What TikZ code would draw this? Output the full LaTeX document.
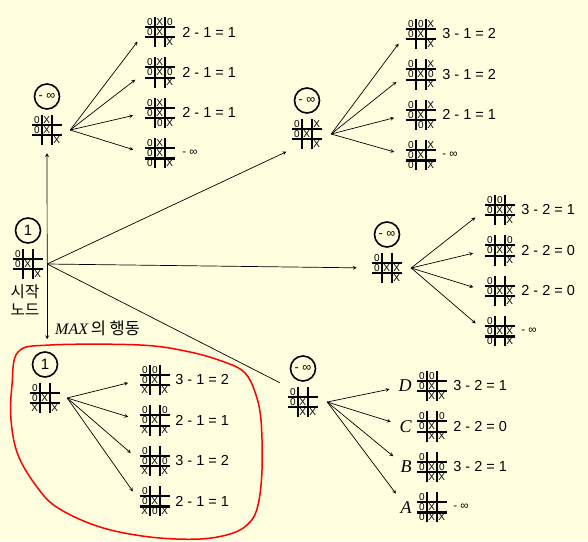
\documentclass[tikz,border=0pt]{standalone}
\usepackage{fontspec}
\setmainfont{Liberation Sans}
\newfontfamily\serif{Liberation Serif}
\newfontfamily\kor{Noto Sans CJK KR}
\usepackage{xcolor}
\usetikzlibrary{arrows, positioning}

\definecolor{paper}{RGB}{255,255,224}

% a tic-tac-toe board: name, placement, nine cells (row by row)
\newcommand{\board}[3]{%
  \node (#1) [board, #2] {};
  \draw [gridline] ([xshift=10pt]#1.north west) -- ([xshift=10pt]#1.south west)
    ([xshift=-10pt]#1.north east) -- ([xshift=-10pt]#1.south east)
    ([yshift=-10pt]#1.north west) -- ([yshift=-10pt]#1.north east)
    ([yshift=10pt]#1.south west) -- ([yshift=10pt]#1.south east);
  \foreach \cellval [count=\i from 0] in {#3} {
    \pgfmathtruncatemacro\row{\i/3}
    \pgfmathtruncatemacro\col{\i-3*\row}
    \node [cellsym] at ([xshift=\col*10pt+5pt, yshift=-\row*10pt-5pt]#1.north west) {\cellval};
  }%
}

\begin{document}
\begin{tikzpicture}[x=1pt, y=-1pt]
\tikzstyle{board} = [rectangle, minimum size=30pt, inner sep=0pt]
\tikzstyle{gridline} = [line width=2.2pt]
\tikzstyle{cellsym} = [inner sep=0pt, font=\fontsize{10}{10}\selectfont]
\tikzstyle{valcirc} = [circle, draw, line width=1.6pt, minimum size=25pt, inner sep=0pt, font=\fontsize{15}{15}\selectfont]
\tikzstyle{inf} = [font=\fontsize{12.5}{12.5}\selectfont]
\tikzstyle{score} = [inner sep=1pt, font=\fontsize{14.5}{14.5}\selectfont]
\tikzstyle{small} = [inner sep=1pt, font=\fontsize{11.5}{11.5}\selectfont]
\tikzstyle{move} = [inner sep=1pt, font=\serif\itshape\fontsize{18}{18}\selectfont]
\tikzstyle{arrow} = [->, >=stealth, line width=0.7pt, shorten >=12pt]

\fill [paper] (0,0) rectangle (588,541);
\useasboundingbox (0,0) rectangle (588,541);

% start node
\board{s}{at={(28,264)}}{0,,,0,X,,,,X}
\node (vs) [valcirc, above=5pt of s] {1};
\node (slabel) [below=2pt of s, xshift=-3pt, align=center, font=\kor\fontsize{15.5}{18}\selectfont] {시작\\노드};
\coordinate (s0) at ([xshift=4pt]s.east);

% moves of MAX
\board{c1}{at={(47,130)}}{0,X,,0,X,,,,X}
\node (v1) [valcirc, inf, above=5pt of c1] {- ∞};
\board{c2}{at={(307,134)}}{0,,X,0,X,,,,X}
\node (v2) [valcirc, inf, above=5pt of c2] {- ∞};
\board{c3}{at={(387,268)}}{0,,,0,X,X,,,X}
\node (v3) [valcirc, inf, above=5pt of c3] {- ∞};
\board{c4}{at={(303,402)}}{0,,,0,X,,,X,X}
\node (v4) [valcirc, inf, above=5pt of c4] {- ∞};
\board{c5}{at={(45,398)}}{0,,,0,X,,X,,X}
\node (v5) [valcirc, above=5pt of c5] {1};

\node (act) [anchor=west, inner sep=0pt] at (55,328) {{\serif\itshape\fontsize{16}{16}\selectfont MAX} {\kor\fontsize{16.5}{16.5}\selectfont 의 행동}};

\draw [arrow, shorten >=8pt] (s0) -- (c1.south);
\draw [arrow, shorten >=6pt] (s0) -- (c2.south west);
\draw [arrow, shorten >=15pt] (s0) -- (c3.west);
\draw [line width=0.7pt, shorten >=9pt] (s0) -- (c4.north west);
\draw [arrow, shorten >=12pt] (s0) -- (s0 |- v5.north);

% replies of MIN to c1
\board{c1a}{at={(160,32)}}{0,X,0,0,X,,,,X}
\board{c1b}{below=10pt of c1a}{0,X,,0,X,0,,,X}
\board{c1c}{below=10pt of c1b}{0,X,,0,X,,,0,X}
\board{c1d}{below=10pt of c1c}{0,X,,0,X,,0,,X}
\node (t1a) [score, right=6pt of c1a] {2 - 1 = 1};
\node (t1b) [score, right=6pt of c1b] {2 - 1 = 1};
\node (t1c) [score, right=6pt of c1c] {2 - 1 = 1};
\node (t1d) [small, right=6pt of c1d] {- ∞};
\coordinate (c1o) at ([xshift=8pt]c1.east);
\draw [arrow] (c1o) -- (c1a.west);
\draw [arrow] (c1o) -- (c1b.west);
\draw [arrow] (c1o) -- (c1c.west);
\draw [arrow] (c1o) -- (c1d.west);

% replies to c2
\board{c2a}{at={(421,34)}}{0,0,X,0,X,,,,X}
\board{c2b}{below=10pt of c2a}{0,,X,0,X,0,,,X}
\board{c2c}{below=10pt of c2b}{0,,X,0,X,,,0,X}
\board{c2d}{below=10pt of c2c}{0,,X,0,X,,0,,X}
\node (t2a) [score, right=5pt of c2a] {3 - 1 = 2};
\node (t2b) [score, right=5pt of c2b] {3 - 1 = 2};
\node (t2c) [score, right=5pt of c2c] {2 - 1 = 1};
\node (t2d) [small, right=5pt of c2d] {- ∞};
\coordinate (c2o) at ([xshift=9pt]c2.east);
\draw [arrow] (c2o) -- (c2a.west);
\draw [arrow] (c2o) -- (c2b.west);
\draw [arrow] (c2o) -- (c2c.west);
\draw [arrow] (c2o) -- (c2d.west);

% replies to c3
\board{c3a}{at={(500,210)}}{0,0,,0,X,X,,,X}
\board{c3b}{below=10pt of c3a}{0,,0,0,X,X,,,X}
\board{c3c}{below=10pt of c3b}{0,,,0,X,X,,,X}
\board{c3d}{below=10pt of c3c}{0,,,0,X,X,0,,X}
\node (t3a) [score, right=5pt of c3a] {3 - 2 = 1};
\node (t3b) [score, right=5pt of c3b] {2 - 2 = 0};
\node (t3c) [score, right=5pt of c3c] {2 - 2 = 0};
\node (t3d) [small, right=5pt of c3d] {- ∞};
\coordinate (c3o) at ([xshift=9pt]c3.east);
\draw [arrow] (c3o) -- (c3a.west);
\draw [arrow] (c3o) -- (c3b.west);
\draw [arrow] (c3o) -- (c3c.west);
\draw [arrow] (c3o) -- (c3d.west);

% replies to c4
\board{c4a}{at={(432,386)}}{0,0,,0,X,,,X,X}
\board{c4b}{below=10pt of c4a}{0,,0,0,X,,,X,X}
\board{c4c}{below=10pt of c4b}{0,,,0,X,0,,X,X}
\board{c4d}{below=10pt of c4c}{0,,,0,X,,0,X,X}
\node (lD) [move, left=4pt of c4a] {D};
\node (lC) [move, left=4pt of c4b] {C};
\node (lB) [move, left=4pt of c4c] {B};
\node (lA) [move, left=4pt of c4d] {A};
\node (t4a) [score, right=5pt of c4a] {3 - 2 = 1};
\node (t4b) [score, right=5pt of c4b] {2 - 2 = 0};
\node (t4c) [score, right=5pt of c4c] {3 - 2 = 1};
\node (t4d) [small, right=5pt of c4d] {- ∞};
\coordinate (c4o) at ([xshift=9pt]c4.east);
\draw [arrow, shorten >=8pt] (c4o) -- (lD);
\draw [arrow, shorten >=8pt] (c4o) -- (lC);
\draw [arrow, shorten >=8pt] (c4o) -- (lB);
\draw [arrow, shorten >=8pt] (c4o) -- (lA);

% replies to c5
\board{c5a}{at={(155,380)}}{0,0,,0,X,,X,,X}
\board{c5b}{below=10pt of c5a}{0,,0,0,X,,X,,X}
\board{c5c}{below=10pt of c5b}{0,,,0,X,0,X,,X}
\board{c5d}{below=10pt of c5c}{0,,,0,X,,X,0,X}
\node (t5a) [score, right=4pt of c5a] {3 - 1 = 2};
\node (t5b) [score, right=4pt of c5b] {2 - 1 = 1};
\node (t5c) [score, right=4pt of c5c] {3 - 1 = 2};
\node (t5d) [score, right=4pt of c5d] {2 - 1 = 1};
\coordinate (c5o) at ([xshift=7pt]c5.east);
\draw [arrow] (c5o) -- (c5a.west);
\draw [arrow] (c5o) -- (c5b.west);
\draw [arrow] (c5o) -- (c5c.west);
\draw [arrow] (c5o) -- (c5d.west);

% the chosen move
\draw [red, line width=1.5pt] plot [smooth cycle, tension=0.6] coordinates {(18,352) (50,345) (140,345) (190,352) (227,363) (245,373) (255,392) (261,420) (262,470) (258,505) (250,522) (233,533) (200,539) (150,537) (100,527) (58,508) (37,487) (18,455) (11,420) (12,385)};

\end{tikzpicture}
\end{document}
